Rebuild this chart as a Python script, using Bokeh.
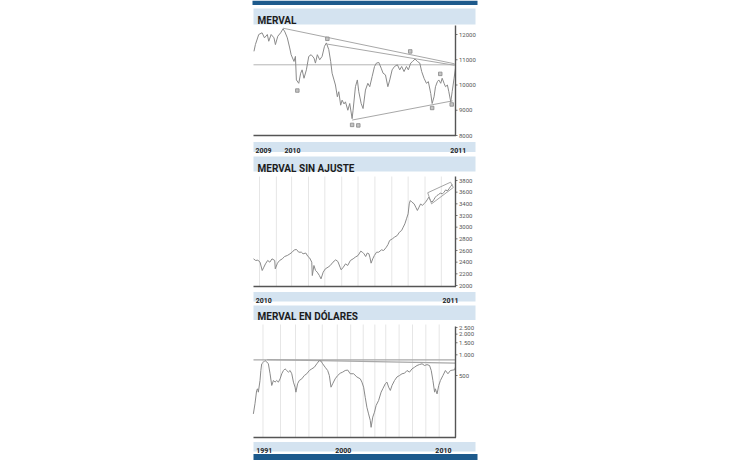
import numpy as np
import pandas as pd
from bokeh.plotting import figure
from bokeh.models import Range1d, LogScale
from bokeh.core.properties import value
from bokeh.embed import file_html
from bokeh.resources import INLINE

# ---------------------------------------------------------------- data
# Panel 1: MERVAL  (day offsets from start date, index level)
merval_start = "2009-10-28"
merval_day = [1, 4, 11, 18, 23, 29, 32, 37, 43, 46, 51, 57, 62, 66, 71, 76, 79, 85, 88, 90,
              95, 99, 102, 106, 111, 116, 121, 127, 130, 134, 139, 144, 149, 153, 158, 162,
              165, 169, 172, 176, 179, 183, 186, 190, 193, 198, 202, 207, 209, 214, 218,
              221, 226, 230, 235, 240, 244, 249, 254, 258, 263, 268, 272, 277, 282, 286,
              291, 296, 302, 307, 311, 316, 321, 325, 330, 334, 339, 344, 349, 353, 358,
              363, 367, 372, 375, 379, 382, 386, 389, 393, 396, 400, 403, 407, 410, 414,
              417, 421, 424]
merval_values = [11333, 11600, 12000, 12067, 11867, 12000, 11733, 12000, 11867, 11600,
                 11933, 12067, 12227, 12100, 11867, 11467, 11200, 10933, 11133, 10200,
                 10067, 10467, 10600, 10267, 10600, 11133, 11200, 11067, 10867, 11200,
                 11000, 11133, 11533, 11667, 11400, 10933, 10467, 10200, 10000, 9533,
                 9733, 9200, 9400, 9250, 9333, 9000, 9267, 8667, 9000, 9933,
                 10200, 9733, 9267, 9067, 9800, 10067, 9933, 10333, 10733, 10867,
                 10893, 10667, 10467, 10400, 9933, 10200, 10600, 10733, 10800, 10600,
                 10733, 10533, 10733, 10600, 10867, 10933, 11027, 10933, 10867, 10533,
                 10267, 10067, 10133, 9667, 9267, 9533, 9933, 10133, 10200, 10067,
                 10267, 10067, 9933, 10000, 9733, 9333, 9733, 10267, 10667]
merval_trend_dates = [["2009-12-29", "2010-12-24"], ["2010-04-01", "2010-12-24"],
                      ["2010-05-23", "2010-12-20"]]
merval_trend_values = [[12250, 10840], [11620, 10780], [8612, 9372]]
merval_level = 10800
merval_mark_dates = ["2010-01-28", "2010-04-01", "2010-05-23", "2010-06-05",
                     "2010-09-22", "2010-11-07", "2010-11-24", "2010-12-18"]
merval_mark_values = [9780, 11830, 8420, 8400, 11330, 9090, 10440, 9230]
merval_ticks = [8000, 9000, 10000, 11000, 12000]
merval_tick_labels = ["8000", "9000", "10000", "11000", "12000"]
merval_years = ["2009", "2010", "2011"]
merval_year_dates = ["2009-11-01", "2010-01-01", "2011-01-01"]
merval_year_align = ["left", "left", "center"]

# Panel 2: MERVAL SIN AJUSTE  (day offsets from start date)
sin_start = "2010-01-04"
sin_day = [0, 4, 8, 12, 16, 19, 22, 26, 30, 34, 39, 40, 44, 48, 53, 57, 62, 67, 71, 75,
           79, 83, 88, 91, 96, 100, 103, 107, 108, 111, 114, 117, 121, 124, 128, 132,
           137, 141, 146, 151, 155, 159, 161, 165, 169, 173, 178, 183, 187, 192, 197,
           200, 203, 206, 209, 212, 214, 216, 219, 222, 226, 230, 235, 239, 244, 247,
           250, 255, 259, 264, 268, 272, 275, 278, 281, 284, 286, 288, 291, 295, 298,
           301, 304, 307, 310, 313, 316, 319, 322, 325, 328, 331, 334, 337, 340, 343,
           347, 350, 353, 356, 359, 362, 365]
sin_values = [2457, 2429, 2434, 2400, 2257, 2314, 2371, 2429, 2400, 2457, 2429, 2286,
              2383, 2429, 2457, 2497, 2514, 2543, 2571, 2611, 2617, 2571, 2571, 2543,
              2557, 2497, 2474, 2400, 2171, 2343, 2257, 2229, 2171, 2114, 2229, 2286,
              2314, 2343, 2400, 2440, 2411, 2314, 2269, 2314, 2371, 2343, 2429, 2457,
              2486, 2514, 2589, 2571, 2543, 2497, 2557, 2543, 2474, 2383, 2457, 2514,
              2571, 2571, 2611, 2600, 2657, 2703, 2771, 2800, 2829, 2857, 2914, 2943,
              3000, 3057, 3143, 3229, 3400, 3457, 3429, 3400, 3343, 3286, 3343, 3400,
              3371, 3400, 3429, 3469, 3514, 3457, 3429, 3469, 3514, 3543, 3560, 3583,
              3571, 3600, 3640, 3620, 3657, 3697, 3731]
sin_channel_dates = ["2010-11-20", "2011-01-01", "2011-01-06", "2010-11-27", "2010-11-20"]
sin_channel_values = [3590, 3771, 3680, 3400, 3590]
sin_grid_dates = ["2010-%02d-15" % m for m in range(1, 13)]
sin_ticks = [2000, 2200, 2400, 2600, 2800, 3000, 3200, 3400, 3600, 3800]
sin_tick_labels = [str(t) for t in sin_ticks]
sin_years = ["2010", "2011"]
sin_year_dates = ["2010-01-08", "2011-01-01"]
sin_year_align = ["left", "center"]

# Panel 3: MERVAL EN DOLARES  (month offsets from start, log scale)
usd_start = "1991-01-15"
usd_month = [0, 2, 4, 5, 6, 8, 9, 10, 12, 14, 16, 18, 20, 22, 24, 26, 28, 30, 32, 34,
             36, 38, 40, 42, 44, 46, 48, 50, 51, 53, 55, 58, 61, 64, 67, 70, 73, 76, 79,
             81, 83, 86, 89, 91, 93, 95, 98, 101, 104, 107, 110, 113, 116, 120, 124,
             128, 130, 132, 134, 136, 138, 140, 141, 143, 145, 147, 150, 153, 155, 158,
             160, 162, 164, 166, 169, 172, 175, 178, 181, 184, 187, 190, 193, 196, 199,
             202, 205, 208, 211, 213, 215, 217, 218, 220, 222, 224, 227, 230, 233, 236,
             239, 241, 242]
usd_values = [138, 194, 303, 320, 286, 423, 591, 740, 780, 826, 790, 740, 530, 358, 423,
              400, 423, 400, 447, 530, 591, 625, 591, 560, 591, 530, 400, 338, 286, 379,
              423, 447, 500, 530, 591, 625, 660, 740, 826, 810, 740, 660, 591, 500, 338,
              379, 447, 500, 540, 560, 591, 600, 530, 530, 476, 447, 400, 338, 241, 172,
              138, 111, 88, 124, 146, 183, 216, 286, 320, 379, 400, 338, 303, 358, 423,
              476, 500, 530, 540, 591, 560, 625, 660, 699, 722, 740, 699, 720, 699, 591,
              423, 286, 320, 270, 358, 423, 500, 591, 530, 591, 600, 606, 660]
usd_line_dates = [["1991-01-20", "2011-03-18"], ["1992-06-01", "2011-03-18"]]
usd_line_values = [[845, 845], [850, 756]]
usd_grid_dates = ["1992-01-01", "1993-10-01", "1995-04-01", "1996-08-01", "1997-12-01",
                  "1999-06-01", "2000-10-01", "2002-01-01", "2003-03-01", "2004-04-01",
                  "2005-08-01", "2006-12-01", "2008-04-01", "2009-08-01"]
usd_ticks = [500, 1000, 1500, 2000, 2500]
usd_tick_labels = ["500", "1.000", "1.500", "2.000", "2.500"]
usd_years = ["1991", "2000", "2010"]
usd_year_dates = ["1991-05-01", "2000-01-01", "2010-01-01"]
usd_year_align = ["left", "center", "center"]

# ---------------------------------------------------------------- layout (page px)
W, H = 720, 460
STRIP_L, STRIP_R = 253, 475
PLOT_L, PLOT_R = 253, 455
BLUE_DARK = "#1d5a8c"
BLUE_LIGHT = "#d4e3f0"
FONT = value("Roboto")
LINE_GREY = "#8a8a8a"


def ms(d):
    return pd.to_datetime(pd.Series(d)).astype("int64").to_numpy() / 1e6


def x_range_for(d0, d1):
    t0, t1 = ms([d0, d1])
    k = (t1 - t0) / (PLOT_R - PLOT_L)
    return Range1d(t0 - PLOT_L * k, t1 + (W - PLOT_R) * k)


def y_range_lin(ya, va, yb, vb):
    k = (vb - va) / (ya - yb)
    return Range1d(va - (H - ya) * k, va + ya * k)


def y_range_log(ya, va, yb, vb):
    la, lb = np.log10(va), np.log10(vb)
    k = (lb - la) / (ya - yb)
    return Range1d(10 ** (la - (H - ya) * k), 10 ** (la + ya * k))


p = figure(width=W, height=H, x_range=Range1d(0, W), y_range=Range1d(H, 0),
           output_backend="svg", toolbar_location=None, min_border=0,
           x_axis_type=None, y_axis_type=None)
p.outline_line_color = None

p.extra_x_ranges = {
    "p1": x_range_for("2009-10-28", "2010-12-26"),
    "p2": x_range_for("2010-01-04", "2011-01-10"),
    "p3": x_range_for("1991-01-20", "2011-03-18"),
}
p.extra_y_ranges = {
    "p1": y_range_lin(135, 8000, 34, 12000),
    "p2": y_range_lin(285, 2000, 180, 3800),
    "p3": y_range_log(375, 500, 327, 2500),
}
p.extra_y_scales = {"p3": LogScale()}

# top / bottom dark bars
p.quad(left=[252, 253], right=[477, 477], top=[0, 453.5], bottom=[4.5, 460],
       fill_color=BLUE_DARK, line_color=None)

panels = [
    dict(name="p1", title="MERVAL", head=(8, 24), base=19.5, top=25, bot=135,
         strip=(141.5, 151.5), ybase=150, ticks=merval_ticks, labels=merval_tick_labels,
         years=merval_years, ydates=merval_year_dates, yalign=merval_year_align),
    dict(name="p2", title="MERVAL SIN AJUSTE", head=(156, 171), base=167.5, top=176, bot=286,
         strip=(291.5, 301), ybase=299.5, ticks=sin_ticks, labels=sin_tick_labels,
         years=sin_years, ydates=sin_year_dates, yalign=sin_year_align),
    dict(name="p3", title="MERVAL EN DÓLARES", head=(305, 319.5), base=316, top=326, bot=437,
         strip=(441.5, 451), ybase=450, ticks=usd_ticks, labels=usd_tick_labels,
         years=usd_years, ydates=usd_year_dates, yalign=usd_year_align),
]

# vertical grid lines (drawn first)
p.segment(x0=ms(sin_grid_dates), x1=ms(sin_grid_dates), y0=176, y1=286,
          x_range_name="p2", line_color="#e6e6e6", line_width=1)
p.segment(x0=ms(usd_grid_dates), x1=ms(usd_grid_dates), y0=324, y1=437,
          x_range_name="p3", line_color="#e6e6e6", line_width=1)

for pn in panels:
    n = pn["name"]
    p.quad(left=STRIP_L, right=STRIP_R, top=pn["head"][0], bottom=pn["head"][1],
           fill_color=BLUE_LIGHT, line_color=None)
    p.text(x=[257], y=[pn["base"]], text=[pn["title"]], text_font=FONT,
           text_font_size="10px", text_font_style="bold", text_color="#1c1c1c",
           text_baseline="alphabetic", text_align="left")
    p.quad(left=STRIP_L, right=STRIP_R, top=pn["strip"][0], bottom=pn["strip"][1],
           fill_color=BLUE_LIGHT, line_color=None)
    for lab, d, al in zip(pn["years"], pn["ydates"], pn["yalign"]):
        p.text(x=ms([d]), y=[pn["ybase"]], text=[lab], x_range_name=n, text_font=FONT,
               text_font_size="7px", text_font_style="bold", text_color="#222222",
               text_baseline="alphabetic", text_align=al)
    p.text(x=[458.5] * len(pn["ticks"]), y=pn["ticks"], text=pn["labels"], y_range_name=n,
           text_font=FONT, text_font_size="6px", text_color="#555555",
           text_baseline="middle", text_align="left")
    p.segment(x0=[PLOT_R] * len(pn["ticks"]), x1=[PLOT_R + 2] * len(pn["ticks"]),
              y0=pn["ticks"], y1=pn["ticks"], y_range_name=n, line_color="#777777",
              line_width=1)

# ---- panel 1 content
p.line(x=ms(["2009-10-28", "2010-12-26"]), y=[merval_level, merval_level],
       x_range_name="p1", y_range_name="p1", line_color="#b4b4b4", line_width=1)
p.multi_line(xs=[list(ms(d)) for d in merval_trend_dates], ys=merval_trend_values,
             x_range_name="p1", y_range_name="p1", line_color="#a8a8a8", line_width=1)
d1 = pd.Timestamp(merval_start) + pd.to_timedelta(merval_day, unit="D")
p.line(x=ms(d1), y=merval_values, x_range_name="p1", y_range_name="p1",
       line_color=LINE_GREY, line_width=1)
p.scatter(x=ms(merval_mark_dates), y=merval_mark_values, x_range_name="p1",
          y_range_name="p1", marker="square", size=3.5, fill_color="#c4c4c4",
          line_color="#888888", line_width=0.8)

# ---- panel 2 content
d2 = pd.Timestamp(sin_start) + pd.to_timedelta(sin_day, unit="D")
p.line(x=ms(d2), y=sin_values, x_range_name="p2", y_range_name="p2",
       line_color=LINE_GREY, line_width=1)
p.line(x=ms(sin_channel_dates), y=sin_channel_values, x_range_name="p2",
       y_range_name="p2", line_color="#9a9a9a", line_width=0.9)

# ---- panel 3 content
p.multi_line(xs=[list(ms(d)) for d in usd_line_dates], ys=usd_line_values,
             x_range_name="p3", y_range_name="p3", line_color="#a8a8a8", line_width=1.1)
d3 = [pd.Timestamp(usd_start) + pd.DateOffset(months=int(m)) for m in usd_month]
p.line(x=ms(d3), y=usd_values, x_range_name="p3", y_range_name="p3",
       line_color=LINE_GREY, line_width=1)

# axis lines (on top)
for pn in panels:
    p.segment(x0=[PLOT_L], x1=[PLOT_R + 0.5], y0=[pn["bot"]], y1=[pn["bot"]],
              line_color="#555555", line_width=1.6)
    p.segment(x0=[PLOT_R], x1=[PLOT_R], y0=[pn["top"]], y1=[pn["bot"]],
              line_color="#555555", line_width=1.4)

open("out.html", "w").write(file_html(p, INLINE, title="MERVAL"))
